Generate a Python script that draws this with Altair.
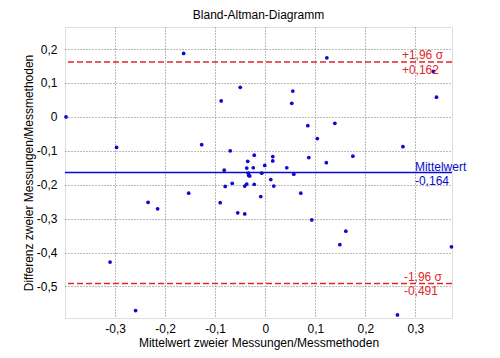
import altair as alt
import pandas as pd

# Scatter data: mean of two measurements (x) vs difference (y)
mean_vals = [-0.398, -0.297, -0.163, -0.310, -0.259, -0.234, -0.215, -0.153, -0.127, -0.088,
             -0.050, -0.070, -0.082, -0.080, -0.066, -0.090, -0.055, -0.041, -0.035, -0.037,
             -0.034, -0.033, -0.031, -0.041, -0.037, -0.022, -0.024, -0.022, -0.009, -0.007,
             -0.001, 0.011, 0.015, 0.015, 0.017, 0.043, 0.055, 0.053, 0.057, 0.071,
             0.085, 0.087, 0.093, 0.104, 0.123, 0.122, 0.139, 0.161, 0.149, 0.175,
             0.275, 0.336, 0.342, 0.264, 0.372]
diff_vals = [0.000, -0.090, 0.187, -0.428, -0.571, -0.252, -0.271, -0.225, -0.082, 0.047,
             0.087, -0.100, -0.157, -0.205, -0.196, -0.253, -0.283, -0.286, -0.131, -0.151,
             -0.166, -0.173, -0.174, -0.204, -0.198, -0.113, -0.150, -0.199, -0.235, -0.166,
             -0.143, -0.185, -0.117, -0.130, -0.204, -0.150, 0.076, 0.040, -0.169, -0.225,
             -0.026, -0.120, -0.304, -0.064, 0.174, -0.135, -0.019, -0.337, -0.377, -0.116,
             -0.088, 0.134, 0.058, -0.584, -0.383]

# Reference lines
mean_diff = -0.164
upper_loa = 0.162
lower_loa = -0.491

x_ticks = [-0.3, -0.2, -0.1, 0.0, 0.1, 0.2, 0.3]
y_ticks = [-0.5, -0.4, -0.3, -0.2, -0.1, 0.0, 0.1, 0.2]
x_domain = [-0.4, 0.373]
y_domain = [-0.593, 0.265]

# Annotation texts
label_texts = ["+1,96 σ", "+0,162", "Mittelwert", "-0,164", "-1,96 σ", "-0,491"]
label_x = [0.273, 0.273, 0.299, 0.299, 0.277, 0.277]
label_y = [upper_loa, upper_loa, mean_diff, mean_diff, lower_loa, lower_loa]
label_dy = [-7, 8, -6, 8, -6, 8]
label_color = ["red", "red", "blue", "blue", "red", "red"]

RED = "#e02828"
BLUE = "#0a0ad0"
FONT = "Liberation Sans"

label_expr = ("abs(datum.value) < 1e-9 ? '0' : "
              "replace(replace(format(datum.value, '.1f'), '.', ','), '\u2212', '-')")

pts = pd.DataFrame({"x": mean_vals, "y": diff_vals})

xs = alt.Scale(domain=x_domain, nice=False, zero=False)
ys = alt.Scale(domain=y_domain, nice=False, zero=False)

x_axis = alt.Axis(values=x_ticks, labelExpr=label_expr, title="Mittelwert zweier Messungen/Messmethoden",
                  grid=True, gridDash=[1, 2], gridColor="#777777", gridOpacity=1, gridWidth=1,
                  ticks=False, tickSize=0, domain=False, labelPadding=5, titlePadding=3,
                  labelFontSize=12, titleFontSize=12, titleFontWeight="normal",
                  labelFont=FONT, titleFont=FONT, labelColor="#000", titleColor="#000")
y_axis = alt.Axis(values=y_ticks, labelExpr=label_expr, title="Differenz zweier Messungen/Messmethoden",
                  grid=True, gridDash=[1, 2], gridColor="#777777", gridOpacity=1, gridWidth=1,
                  ticks=False, tickSize=0, domain=False, labelPadding=8, titlePadding=1,
                  labelFontSize=12, titleFontSize=12, titleFontWeight="normal",
                  labelFont=FONT, titleFont=FONT, labelColor="#000", titleColor="#000")

points = alt.Chart(pts).mark_circle(size=14, color=BLUE, opacity=1).encode(
    x=alt.X("x:Q", scale=xs, axis=x_axis),
    y=alt.Y("y:Q", scale=ys, axis=y_axis),
)

lines_df = pd.DataFrame({"y": [upper_loa, lower_loa]})
red_lines = alt.Chart(lines_df).mark_rule(color=RED, strokeDash=[6, 3], strokeWidth=1.5).encode(
    y=alt.Y("y:Q", scale=ys)
)
mean_line = alt.Chart(pd.DataFrame({"y": [mean_diff]})).mark_rule(color=BLUE, strokeWidth=1.5).encode(
    y=alt.Y("y:Q", scale=ys)
)

lab = pd.DataFrame({"t": label_texts, "x": label_x, "y": label_y, "dy": label_dy, "c": label_color})
texts = []
for i in range(len(label_texts)):
    row = lab.iloc[[i]]
    texts.append(
        alt.Chart(row).mark_text(align="left", baseline="middle", dy=int(label_dy[i]), fontSize=12,
                                 font=FONT, color=RED if label_color[i] == "red" else BLUE).encode(
            x=alt.X("x:Q", scale=xs), y=alt.Y("y:Q", scale=ys), text="t:N"
        )
    )

chart = alt.layer(red_lines, mean_line, points, *texts).properties(
    width=387, height=291,
    title=alt.TitleParams("Bland-Altman-Diagramm", fontSize=12, fontWeight="normal", font=FONT,
                          color="#000", offset=5),
    autosize=alt.AutoSizeParams(type="none"),
    padding={"left": 57, "top": 19, "right": 40, "bottom": 40},
).configure_view(stroke="#888888", strokeWidth=1).configure(background="white")

chart.save("out.html", embed_options={"renderer": "svg", "actions": False})
